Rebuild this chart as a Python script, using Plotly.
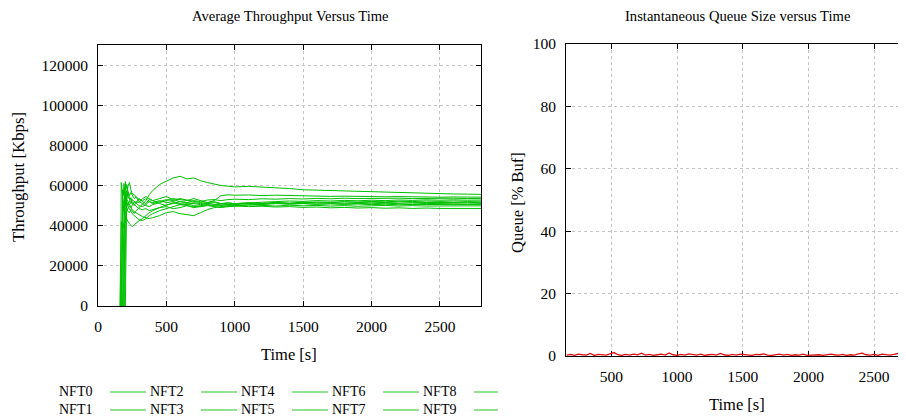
import plotly.graph_objects as go

# ---------------- data ----------------
time_s = [160, 165, 170, 175, 180, 185, 190, 195, 200, 205, 210,
          220, 230, 240, 250, 265, 280, 300,
          325, 350, 375, 400,
          450, 500, 550, 600, 650, 700, 750, 800, 850, 900, 950, 1000,
          1100, 1200, 1300, 1400, 1500, 1600, 1700, 1800, 1900, 2000,
          2100, 2200, 2300, 2400, 2500, 2600, 2700, 2800]

nft0 = [None, None, 0, 48000, 52000, 50000, 47000, 49000, 51000, 50000, 48500,
        47000, 46500, 48000, 47500, 46000, 47500, 49000,
        50500, 52500, 55500, 57500,
        60500, 62000, 63800, 64600, 63300, 63800, 62400, 61500, 60600, 60000, 59700, 59300,
        59600, 59300, 59100, 58500, 57900, 57700, 57500, 57100, 56900, 56800,
        56500, 56300, 56200, 56000, 55900, 55800, 55700, 55600]
nft1 = [None, None, None, None, None, 0, 55000, 58000, 56000, 53000, 52000,
        50000, 52500, 51000, 53000, 52000, 51000, 50000,
        49500, 50500, 52000, 51500,
        52500, 51500, 52000, 51000, 50500, 51500, 51000, 51500, 52500, 55000, 55400, 55200,
        55300, 55000, 55200, 55000, 54800, 54900, 54600, 54700, 54500, 54600,
        54400, 54500, 54300, 54400, 54200, 54300, 54100, 54200]
nft2 = [None, 0, 61500, 58000, 55000, 52000, 50000, 47000, 45000, 44000, 43000,
        42000, 41000, 40000, 39500, 40500, 41500, 42500,
        43500, 45000, 46500, 47500,
        49000, 50500, 51000, 52000, 51500, 52500, 52000, 52800, 53000, 52500, 53000, 53200,
        53000, 53400, 53200, 53500, 53300, 53600, 53400, 53700, 53500, 53600,
        53400, 53700, 53500, 53600, 53500, 53700, 53500, 53600]
nft3 = [None, None, None, None, 0, 42000, 47000, 50000, 52000, 51000, 53000,
        52000, 50500, 49000, 48000, 47000, 46500, 45500,
        44500, 44000, 43500, 44000,
        45000, 46500, 47000, 46000, 45500, 45000, 46500, 48000, 49000, 49500, 50000, 50500,
        51000, 50500, 51000, 50800, 51100, 50700, 50900, 50600, 50800, 50500,
        50700, 50400, 50600, 50500, 50700, 50500, 50600, 50600]
nft4 = [None, None, None, None, None, None, 0, 60000, 62000, 58000, 60500,
        57000, 55000, 56500, 55000, 53500, 54500, 53000,
        52500, 53500, 52000, 51000,
        52000, 53000, 52500, 53500, 52800, 52000, 51500, 51000, 51500, 50800, 51200, 51000,
        51400, 51200, 51600, 51300, 51700, 51400, 51600, 51300, 51500, 51700,
        51500, 51800, 51600, 51500, 51700, 51600, 51500, 51600]
nft5 = [None, None, None, None, None, None, None, None, 0, 45000, 55000,
        60000, 61500, 58000, 56000, 55500, 54000, 52000,
        51000, 50000, 49500, 50500,
        51500, 52500, 53500, 53000, 52500, 53500, 52500, 51500, 52000, 51000, 50500, 50000,
        50400, 50100, 49800, 50200, 49900, 50100, 49800, 50000, 49700, 49900,
        50100, 49800, 50000, 49800, 49900, 50000, 49800, 49900]
nft6 = [None, None, 0, 35000, 45000, 48000, 50000, 52000, 53500, 52000, 51000,
        49500, 48500, 47000, 46000, 45000, 44000, 43000,
        42500, 43500, 45000, 46000,
        47500, 48500, 49500, 50500, 50000, 49500, 50000, 50500, 49800, 50000, 49500, 49800,
        49500, 49700, 49300, 49500, 49100, 49300, 48900, 49100, 48800, 49000,
        48700, 48900, 48600, 48800, 48600, 48700, 48500, 48600]
nft7 = [0, 30000, 42000, 40000, 38000, 41000, 39000, 42000, 44000, 45500, 47000,
        48500, 50000, 49000, 50500, 52000, 51500, 53500,
        52000, 51000, 53000, 52500,
        51000, 50000, 51500, 50500, 51000, 50000, 49500, 50000, 49500, 49000, 49500, 49800,
        50300, 50800, 51200, 51000, 51500, 51800, 51600, 52000, 51800, 52100,
        51900, 52200, 52000, 52300, 52100, 52300, 52100, 52200]
nft8 = [None, None, None, 0, 58000, 55000, 61000, 57000, 54000, 55500, 57500,
        55000, 53000, 54000, 52000, 50500, 49500, 48500,
        48000, 48500, 47500, 48000,
        49000, 49500, 48500, 49000, 50000, 49000, 49500, 50500, 50000, 51000, 51500, 51000,
        51300, 50900, 51200, 50800, 51000, 50700, 51000, 50800, 51100, 50900,
        51200, 51000, 50800, 51100, 50900, 51000, 50800, 51000]
nft9 = [None, None, None, None, None, None, None, 0, 50000, 56000, 53000,
        56500, 54000, 52500, 51000, 50000, 52000, 51500,
        53500, 54500, 53500, 52500,
        53500, 54500, 53000, 52000, 51500, 51000, 50500, 51000, 50500, 50200, 50500, 50800,
        51300, 51700, 52000, 52300, 52100, 52500, 52300, 52600, 52400, 52700,
        52500, 52800, 52600, 52900, 52700, 52900, 52700, 52800]

flow_names = ["NFT0", "NFT1", "NFT2", "NFT3", "NFT4", "NFT5", "NFT6", "NFT7", "NFT8", "NFT9"]
flow_values = [nft0, nft1, nft2, nft3, nft4, nft5, nft6, nft7, nft8, nft9]

queue_pct = [0.3, 0.5, 0.2, 0.6, 0.4, 0.3, 0.8, 0.2, 0.5, 0.4,
             0.3, 0.7, 1.1, 0.4, 0.2, 0.5, 0.3, 0.6, 0.4, 0.9,
             0.3, 0.5, 0.2, 0.4, 0.6, 0.3, 1.0, 0.4, 0.2, 0.5,
             0.3, 0.7, 0.4, 0.3, 0.6, 0.2, 0.4, 0.5, 0.3, 0.8,
             0.4, 0.2, 0.5, 0.3, 0.6, 0.4, 0.3, 0.2, 0.5, 0.4,
             0.7, 0.3, 0.2, 0.4, 0.6, 0.3, 0.5, 0.2, 0.4, 0.3,
             0.6, 0.2, 0.3, 0.5, 0.4, 0.2, 0.3, 0.6, 0.4, 0.3,
             0.5, 0.2, 0.4, 0.3, 0.7, 0.9, 0.4, 0.3, 0.5, 0.2,
             0.6, 0.4, 0.3, 0.5, 0.8, 0.3, 0.4, 0.2, 0.5]
queue_time = list(range(160, 160 + 30 * len(queue_pct), 30))

# legend layout order (gnuplot-style, column-major in 2 rows)
legend_rows = [["NFT0", "NFT2", "NFT4", "NFT6", "NFT8"],
               ["NFT1", "NFT3", "NFT5", "NFT7", "NFT9"]]

for v in flow_values:
    assert len(v) == len(time_s), len(v)

# ---------------- figure ----------------
# the page body has an 8px margin, so the figure is drawn at (8, 8)
OFF = 8
W, H = 906 - OFF, 419 - OFF
FONT = "Liberation Serif"
GREEN = "#00c000"


def px(x):
    return (x - OFF) / W


def py(y):
    return 1 - (y - OFF) / H


fig = go.Figure()
for name, vals in zip(flow_names, flow_values):
    fig.add_trace(go.Scatter(x=time_s, y=vals, mode="lines", name=name,
                             line=dict(color=GREEN, width=1),
                             xaxis="x", yaxis="y", showlegend=False))

fig.add_trace(go.Scatter(x=queue_time, y=queue_pct, mode="lines", name="Queue",
                         line=dict(color="#e01010", width=1.3),
                         xaxis="x2", yaxis="y2", showlegend=False))

axis_common = dict(showgrid=True, gridcolor="#c4c4c4", griddash="dot", gridwidth=1,
                   showline=True, linecolor="black", linewidth=1,
                   ticks="inside", ticklen=5, tickcolor="black",
                   zeroline=False, layer="below traces", automargin=False,
                   tickfont=dict(family=FONT, size=15.5, color="black"))

fig.update_layout(
    template="none",
    width=W, height=H,
    margin=dict(l=0, r=0, t=0, b=0, pad=0),
    paper_bgcolor="white", plot_bgcolor="white",
    showlegend=False,
    xaxis=dict(domain=[px(98), px(481)], range=[0, 2800], tick0=0, dtick=500,
               anchor="y", mirror="allticks", ticklabelstandoff=6, **axis_common),
    yaxis=dict(domain=[py(306), py(45)], range=[0, 130000], tick0=0, dtick=20000,
               tickformat="d", anchor="x", mirror="allticks", ticklabelstandoff=6,
               **axis_common),
    xaxis2=dict(domain=[px(566), 1.0], range=[155, 2743], tick0=0, dtick=500,
                anchor="y2", mirror="allticks", ticklabelstandoff=6, **axis_common),
    yaxis2=dict(domain=[py(356), py(44)], range=[0, 100], tick0=0, dtick=20,
                anchor="x2", mirror=False, ticklabelstandoff=6, **axis_common),
)

annotations = []


def txt(x, y, s, size=15, angle=0, xanchor="center"):
    annotations.append(dict(x=px(x), y=py(y), xref="paper", yref="paper", text=s,
                            showarrow=False, xanchor=xanchor, yanchor="middle",
                            textangle=angle,
                            font=dict(family=FONT, size=size, color="black")))


txt(290, 16, "Average Throughput Versus Time", size=14.6)
txt(737, 16, "Instantaneous Queue Size versus Time", size=14.6)
txt(289, 354, "Time [s]", size=16.5)
txt(737, 404, "Time [s]", size=16.5)
txt(18, 177, "Throughput [Kbps]", size=16.8, angle=-90)
txt(517, 203, "Queue [% Buf]", size=16.5, angle=-90)

shapes = []
row_y = [391, 409]
col_text_right = [94, 185, 276, 367, 458]
col_line = [(110, 146), (201, 237), (292, 328), (383, 419), (474, 498)]
for r, row in enumerate(legend_rows):
    for c, name in enumerate(row):
        txt(col_text_right[c], row_y[r], name, size=14, xanchor="right")
        x0, x1 = col_line[c]
        shapes.append(dict(type="line", xref="paper", yref="paper",
                           x0=px(x0), x1=px(x1), y0=py(row_y[r] + 1), y1=py(row_y[r] + 1),
                           line=dict(color="#6fd86f", width=1.5)))

fig.update_layout(annotations=annotations, shapes=shapes)

fig.write_html("out.html")
